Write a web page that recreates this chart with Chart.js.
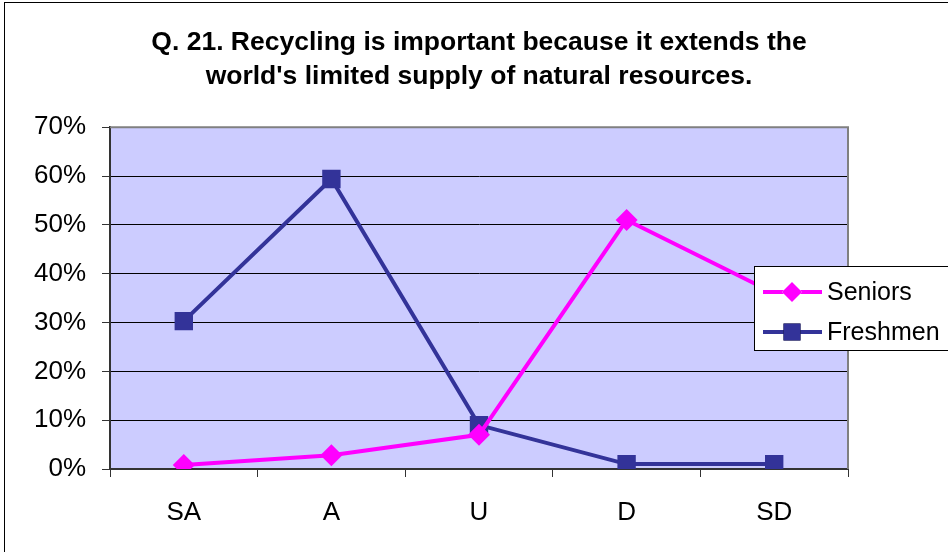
<!DOCTYPE html>
<html>
<head>
<meta charset="utf-8">
<script src="https://cdn.jsdelivr.net/npm/chart.js@4"></script>
<style>
  html, body { margin: 0; padding: 0; background: #fff; }
  #wrap { width: 948px; height: 552px; position: relative; }
</style>
</head>
<body>
<div id="wrap"><canvas id="surveyChart"></canvas></div>
<script>
// Chart values
const categories = ['SA', 'A', 'U', 'D', 'SD'];
const seniors = [0.8, 2.8, 7, 51, 36];
const freshmen = [30.3, 59.4, 9, 1, 1];
const yTicks = [0, 10, 20, 30, 40, 50, 60, 70];
const titleLines = ['Q. 21. Recycling is important because it extends the',
                    "world's limited supply of natural resources."];

const FONT = '"Liberation Sans", Arial, sans-serif';

// Lavender plot background, gray top/right edge, outer frame
const plotBackground = {
    id: 'plotBackground',
    beforeDraw(chart) {
        const { ctx, chartArea: a } = chart;
        ctx.save();
        ctx.fillStyle = '#CCCCFF';
        ctx.fillRect(a.left, a.top, a.right - a.left, a.bottom - a.top);
        // outer frame (left and top visible only)
        ctx.strokeStyle = '#000';
        ctx.lineWidth = 1;
        ctx.strokeRect(4.5, 2.5, 1000, 1000);
        ctx.restore();
    },
    beforeDatasetsDraw(chart) {
        const { ctx, chartArea: a } = chart;
        ctx.save();
        ctx.strokeStyle = '#808080';
        ctx.lineWidth = 2;
        ctx.beginPath();
        ctx.moveTo(a.left, a.top);
        ctx.lineTo(a.right, a.top);
        ctx.lineTo(a.right, a.bottom);
        ctx.stroke();
        ctx.restore();
    }
};

// Legend box floating over the right side of the plot
const floatingLegend = {
    id: 'floatingLegend',
    afterDraw(chart) {
        const ctx = chart.ctx;
        const box = { x: 754.5, y: 266.5, w: 210, h: 84 };
        ctx.save();
        ctx.fillStyle = '#fff';
        ctx.fillRect(box.x, box.y, box.w, box.h);
        ctx.strokeStyle = '#000';
        ctx.lineWidth = 1;
        ctx.strokeRect(box.x, box.y, box.w, box.h);
        const rows = [292, 332];
        chart.data.datasets.forEach((ds, i) => {
            const y = rows[i];
            ctx.strokeStyle = ds.borderColor;
            ctx.lineWidth = ds.borderWidth;
            ctx.beginPath();
            ctx.moveTo(763, y);
            ctx.lineTo(822, y);
            ctx.stroke();
            Chart.helpers.drawPoint(ctx, {
                pointStyle: ds.pointStyle,
                radius: ds.pointRadius - 1,
                rotation: 0,
                borderWidth: 0
            }, 792, y);
            ctx.fillStyle = ds.pointBackgroundColor;
            ctx.fill();
            ctx.fillStyle = '#000';
            ctx.font = '25px ' + FONT;
            ctx.textBaseline = 'middle';
            ctx.textAlign = 'left';
            ctx.fillText(ds.label, 827, y + 1);
        });
        ctx.restore();
    }
};

const ctx = document.getElementById('surveyChart').getContext('2d');
new Chart(ctx, {
    type: 'line',
    data: {
        labels: categories,
        datasets: [{
            label: 'Seniors',
            data: seniors,
            borderColor: '#FF00FF',
            backgroundColor: '#FF00FF',
            pointBackgroundColor: '#FF00FF',
            pointBorderColor: '#FF00FF',
            borderWidth: 4,
            pointStyle: 'rectRot',
            pointRadius: 11,
            pointBorderWidth: 0,
            tension: 0
        }, {
            label: 'Freshmen',
            data: freshmen,
            borderColor: '#333399',
            backgroundColor: '#333399',
            pointBackgroundColor: '#333399',
            pointBorderColor: '#333399',
            borderWidth: 4,
            pointStyle: 'rect',
            pointRadius: 13,
            pointBorderWidth: 0,
            tension: 0
        }]
    },
    options: {
        responsive: true,
        maintainAspectRatio: false,
        animation: false,
        devicePixelRatio: 1,
        layout: { padding: { left: 0, right: 100, top: 0, bottom: 0 } },
        plugins: {
            legend: { display: false },
            tooltip: { enabled: false },
            title: {
                display: true,
                fullSize: false,
                text: titleLines,
                color: '#000',
                font: { family: FONT, size: 26.5, weight: 'bold', lineHeight: 1.27 },
                padding: { top: 26, bottom: 34 }
            }
        },
        scales: {
            x: {
                offset: true,
                grid: {
                    offset: true,
                    drawOnChartArea: false,
                    drawTicks: true,
                    tickLength: 8,
                    tickColor: '#333',
                    tickWidth: 1
                },
                border: { color: '#333', width: 2 },
                ticks: {
                    color: '#000',
                    font: { family: FONT, size: 26 },
                    padding: 20
                },
                afterFit(scale) { scale.height = 83; }
            },
            y: {
                min: 0,
                max: 70,
                afterBuildTicks(scale) {
                    scale.ticks = yTicks.map(v => ({ value: v }));
                },
                grid: {
                    color: '#000',
                    lineWidth: 1,
                    tickLength: 8,
                    tickColor: '#333'
                },
                border: { color: '#333', width: 2 },
                ticks: {
                    color: '#000',
                    font: { family: FONT, size: 26 },
                    padding: 16,
                    callback: v => v + '%'
                },
                afterFit(scale) { scale.width = 110; }
            }
        }
    },
    plugins: [plotBackground, floatingLegend]
});
</script>
</body>
</html>
